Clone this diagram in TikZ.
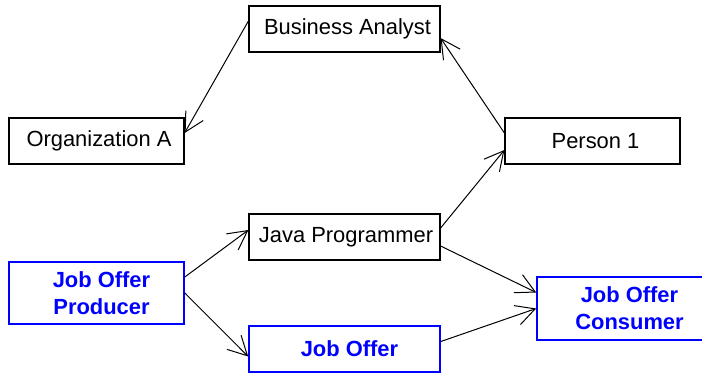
\documentclass[tikz,border=0pt]{standalone}
\usepackage{fontspec}
\setmainfont{Liberation Sans}
\usetikzlibrary{arrows.meta}

\begin{document}
\begin{tikzpicture}[x=1bp,y=-1bp,
    box/.style={draw,line width=1.2bp,minimum height=46bp,inner sep=0pt,
      font=\fontsize{22}{27}\selectfont},
    role/.style={box,minimum width=191bp},
    thing/.style={box,minimum width=175bp},
    bluebox/.style={draw=blue,line width=1.6bp,text=blue,align=center,inner sep=0pt,
      font=\fontsize{22}{27}\selectfont\bfseries},
    link/.style={line width=1bp,-{Straight Barb[length=19bp,width=20bp]}}]
  \useasboundingbox (0,0) rectangle (702,373);

    \node[role] (ba) at (344.5,29) {\hspace{6bp}Business Analyst};
    \node[thing] (orga) at (96.5,141) {\hspace{5bp}Organization A};
    \node[thing] (p1) at (592.5,141) {\hspace{6bp}Person 1};
    \node[role] (java) at (344.5,237) {\hspace{3bp}Java Programmer};
    \node[bluebox,minimum width=175bp,minimum height=62bp] (jop) at (96.5,293) {\hspace{10bp}Job Offer\\\hspace{10bp}Producer};
    \node[bluebox,minimum width=191bp,minimum height=46bp] (jo) at (344.5,349) {\hspace{10bp}Job Offer};
    \node[bluebox,minimum width=185bp,minimum height=63bp] (joc) at (629.5,308.5) {Job Offer\\Consumer};

    \draw[link] ([yshift=8bp]ba.west) -- ([yshift=8bp]orga.east);
    \draw[link] ([yshift=8bp]p1.west) -- ([yshift=-9bp]ba.east);
    \draw[link] ([yshift=9bp]java.east) -- ([yshift=-9bp]p1.west);
    \draw[link] ([yshift=16bp]jop.east) -- ([yshift=7bp]java.west);
    \draw[link] (jop.east) -- ([yshift=-7.5bp]jo.west);
    \draw[link] ([yshift=-9bp]java.east) -- ([yshift=16bp]joc.west);
    \draw[link] ([yshift=7.5bp]jo.east) -- (joc.west);
\end{tikzpicture}
\end{document}
